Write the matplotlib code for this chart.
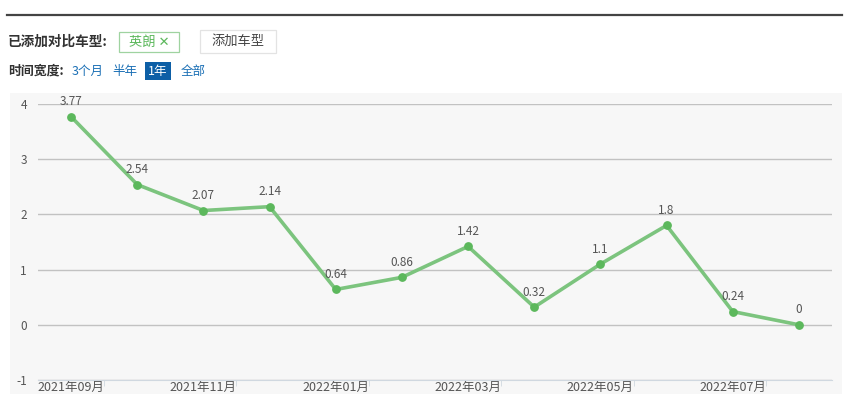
import matplotlib.pyplot as plt
from matplotlib.patches import Rectangle

plt.rcParams['font.family'] = ['Noto Sans CJK SC', 'DejaVu Sans']

months = ['2021年09月', '2021年10月', '2021年11月', '2021年12月', '2022年01月', '2022年02月',
          '2022年03月', '2022年04月', '2022年05月', '2022年06月', '2022年07月', '2022年08月']
values = [3.77, 2.54, 2.07, 2.14, 0.64, 0.86, 1.42, 0.32, 1.1, 1.8, 0.24, 0]
value_labels = ['3.77', '2.54', '2.07', '2.14', '0.64', '0.86', '1.42', '0.32', '1.1', '1.8', '0.24', '0']
yticks = [-1, 0, 1, 2, 3, 4]

W, H = 852, 394
fig = plt.figure(figsize=(W / 100, H / 100), dpi=100)

# header (figure pixel coords via helper)
def fx(px):
    return px / W

def fy(py):
    return 1 - py / H

# dark rule under the (cut off) title
fig.add_artist(plt.Line2D([fx(7), fx(842)], [fy(15), fy(15)], color='#444444', lw=1.6))

fig.text(fx(8), fy(42), '已添加对比车型:', fontsize=9.8, fontweight='bold', color='#333333', va='center')
fig.add_artist(Rectangle((fx(119), fy(52)), fx(60), 20 / H, facecolor='white',
                         edgecolor='#9fd3a0', lw=0.9))
fig.text(fx(149), fy(42), '英朗 ✕', fontsize=9.5, color='#5cb85c', ha='center', va='center')
fig.add_artist(Rectangle((fx(200), fy(53)), fx(76), 23 / H, facecolor='white',
                         edgecolor='#e3e3e3', lw=0.9))
fig.text(fx(238), fy(41), '添加车型', fontsize=9.5, color='#444444', ha='center', va='center')

fig.text(fx(8), fy(71), '时间宽度:', fontsize=9.3, fontweight='bold', color='#333333', va='center')
fig.text(fx(72), fy(71), '3个月', fontsize=9, color='#1a6fb5', va='center')
fig.text(fx(112), fy(71), '半年', fontsize=9, color='#1a6fb5', va='center')
fig.add_artist(Rectangle((fx(145), fy(80)), fx(26), 18 / H, facecolor='#0d5fa6', edgecolor='none'))
fig.text(fx(158), fy(71), '1年', fontsize=9, color='white', ha='center', va='center')
fig.text(fx(181), fy(71), '全部', fontsize=9, color='#1a6fb5', va='center')

# chart panel background
fig.add_artist(Rectangle((fx(10), 0), fx(832), (H - 93) / H, facecolor='#f7f7f7',
                         edgecolor='none', zorder=0))

ax = fig.add_axes([fx(38), (H - 380) / H, fx(794), 276 / H])
ax.set_facecolor('none')
x = list(range(len(values)))
ax.plot(x, values, color='#7cc47e', lw=2.6, zorder=3)
ax.scatter(x, values, s=28, color='#5cb85c', zorder=4)
for xi, v, lab in zip(x, values, value_labels):
    ax.annotate(lab, (xi, v), xytext=(0, 6), textcoords='offset points', ha='center',
                va='bottom', fontsize=8.5, color='#555555', zorder=5)

ax.set_xlim(-0.5, len(values) - 0.5)
ax.set_ylim(-1, 4)
ax.set_yticks(yticks)
ax.set_yticklabels([str(t) for t in yticks])
ax.grid(axis='y', color='#c2c2c2', lw=1)
ax.set_axisbelow(True)
for s in ['top', 'right', 'left']:
    ax.spines[s].set_visible(False)
ax.spines['bottom'].set_color('#d0d8e0')
ax.tick_params(axis='y', length=0, labelsize=8.5, labelcolor='#555555', pad=8)

ax.set_xticks(x[::2])
ax.set_xticklabels(months[::2])
ax.set_xticks([i + 0.5 for i in x[:-1:2]], minor=True)
ax.tick_params(axis='x', which='major', length=0, labelsize=9, labelcolor='#555555', pad=1)
ax.tick_params(axis='x', which='minor', length=4, color='#d0d8e0')

fig.savefig('out.png', dpi=100)
